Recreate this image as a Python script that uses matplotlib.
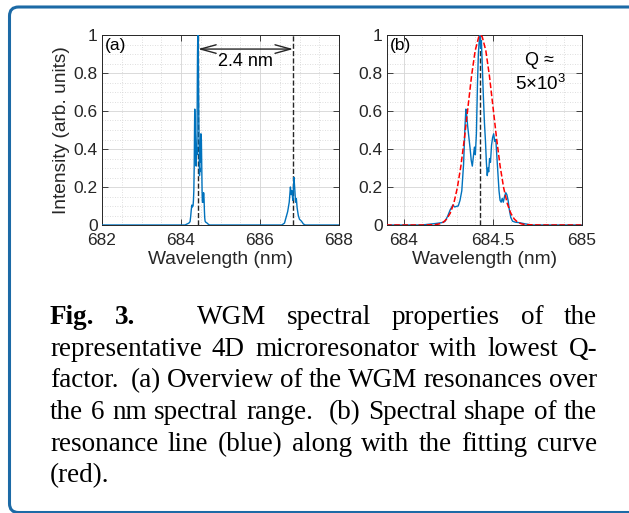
import matplotlib
matplotlib.use("Agg")
import matplotlib.pyplot as plt
from matplotlib.patches import FancyBboxPatch
from matplotlib.ticker import MultipleLocator

plt.rcParams["font.family"] = ["Liberation Sans", "DejaVu Sans"]
plt.rcParams["mathtext.fontset"] = "custom"
plt.rcParams["mathtext.rm"] = "Liberation Sans"
plt.rcParams["mathtext.it"] = "Liberation Sans:italic"

# ---- data ----
# main resonance (panel b, also first cluster in panel a)
wl_res1 = [683.90, 684.10, 684.14, 684.18, 684.21, 684.23, 684.245, 684.26, 684.275, 684.285,
           684.295, 684.305, 684.315, 684.325, 684.335, 684.343, 684.348, 684.352, 684.358, 684.365,
           684.372, 684.378, 684.384, 684.390, 684.396, 684.401, 684.407, 684.413, 684.418, 684.423,
           684.427, 684.431, 684.435, 684.440, 684.446, 684.452, 684.458, 684.463, 684.468, 684.472,
           684.476, 684.481, 684.486, 684.492, 684.498, 684.504, 684.510, 684.516, 684.522, 684.528,
           684.534, 684.540, 684.546, 684.552, 684.558, 684.565, 684.572, 684.578, 684.585, 684.592,
           684.600, 684.610, 684.625, 684.650, 684.680, 684.720, 685.00]
int_res1 = [0.0, 0.0, 0.004, 0.008, 0.012, 0.018, 0.045, 0.08, 0.105, 0.095,
            0.098, 0.10, 0.13, 0.18, 0.32, 0.52, 0.61, 0.58, 0.52, 0.46,
            0.40, 0.34, 0.31, 0.36, 0.41, 0.37, 0.48, 0.74, 0.90, 0.97,
            1.00, 0.93, 0.97, 0.84, 0.68, 0.54, 0.44, 0.33, 0.26, 0.30,
            0.28, 0.35, 0.33, 0.42, 0.46, 0.48, 0.44, 0.45, 0.36, 0.27,
            0.18, 0.13, 0.12, 0.14, 0.12, 0.15, 0.17, 0.16, 0.13, 0.08,
            0.04, 0.02, 0.015, 0.012, 0.006, 0.0, 0.0]

# neighbouring resonance (panel a only)
wl_res2 = [686.55, 686.62, 686.66, 686.70, 686.74, 686.77, 686.79, 686.81, 686.83, 686.86,
           686.88, 686.90, 686.92, 686.94, 686.97, 687.00, 687.05, 687.10, 687.15]
int_res2 = [0.0, 0.01, 0.04, 0.07, 0.12, 0.20, 0.16, 0.18, 0.13, 0.25,
            0.19, 0.12, 0.14, 0.09, 0.05, 0.03, 0.02, 0.005, 0.0]

# fitted line shape (red dashed, panel b)
fit_wl = [683.90, 684.10, 684.18, 684.20, 684.22, 684.24, 684.26, 684.28, 684.30, 684.32,
          684.34, 684.36, 684.38, 684.40, 684.42, 684.43, 684.44, 684.46, 684.48, 684.50,
          684.52, 684.54, 684.56, 684.58, 684.60, 684.62, 684.64, 684.66, 684.68, 684.76, 685.00]
fit_int = [0.0, 0.0, 0.002, 0.006, 0.014, 0.031, 0.062, 0.114, 0.196, 0.311,
           0.458, 0.623, 0.786, 0.917, 0.99, 1.0, 0.99, 0.917, 0.786, 0.623,
           0.458, 0.311, 0.196, 0.114, 0.062, 0.031, 0.014, 0.006, 0.002, 0.0, 0.0]

peak_1 = 684.43
peak_2 = 686.84
fsr_label = "2.4 nm"

xlim_a = (682, 688)
xlim_b = (683.905, 685)
xticks_a = [682, 684, 686, 688]
xticks_b = [684, 684.5, 685]
xlabels_b = ["684", "684.5", "685"]
yticks = [0, 0.2, 0.4, 0.6, 0.8, 1]
ylabels = ["0", "0.2", "0.4", "0.6", "0.8", "1"]

caption_lines = [
    "Fig. 3.   WGM spectral properties of the",
    "representative 4D microresonator with lowest Q-",
    "factor.  (a) Overview of the WGM resonances over",
    "the 6 nm spectral range.  (b) Spectral shape of the",
    "resonance line (blue) along with the fitting curve",
    "(red).",
]
caption_bold = 2  # first two words of first line

BLUE = "#0072BD"
DARK = "#262626"
W, H = 629, 513

fig = plt.figure(figsize=(W / 100, H / 100), dpi=100)


def add_px_axes(l, t, r, b):
    return fig.add_axes([l / W, 1 - b / H, (r - l) / W, (b - t) / H])


def style_axes(ax, xminor):
    ax.set_ylim(0, 1)
    ax.set_yticks(yticks)
    ax.set_yticklabels(ylabels)
    ax.xaxis.set_minor_locator(MultipleLocator(xminor))
    ax.yaxis.set_minor_locator(MultipleLocator(0.05))
    ax.tick_params(which="both", direction="in", top=True, right=True,
                   labelsize=12.5, colors=DARK, width=0.6)
    ax.tick_params(which="major", length=4)
    ax.tick_params(axis="x", pad=6)
    ax.tick_params(axis="y", pad=3)
    ax.tick_params(which="minor", length=0)
    ax.grid(which="major", color="#d4d4d4", lw=0.6, ls="-")
    ax.grid(which="minor", color="#d4d4d4", lw=0.6, ls=(0, (1, 2)))
    ax.set_axisbelow(True)
    for s in ax.spines.values():
        s.set_color(DARK)
        s.set_linewidth(0.7)
    ax.set_xlabel("Wavelength (nm)", fontsize=13.75, color=DARK, labelpad=2)


# ---- panel (a) ----
ax_a = add_px_axes(102, 35, 339, 225)
wl_a = [xlim_a[0]] + wl_res1 + wl_res2 + [xlim_a[1]]
int_a = [0.0] + int_res1 + int_res2 + [0.0]
ax_a.axvline(peak_1, color=DARK, ls="--", lw=1, zorder=2)
ax_a.axvline(peak_2, color=DARK, ls="--", lw=1, zorder=2)
ax_a.plot(wl_a, int_a, color=BLUE, lw=1, zorder=3)
ax_a.set_xlim(*xlim_a)
ax_a.set_xticks(xticks_a)
style_axes(ax_a, 0.5)
ax_a.set_ylabel("Intensity (arb. units)", fontsize=13.75, color=DARK, labelpad=3)
ax_a.annotate("", xy=(peak_1, 0.926), xytext=(peak_2, 0.926),
              arrowprops=dict(arrowstyle="<->,head_length=0.8,head_width=0.22",
                              color=DARK, lw=1, shrinkA=0, shrinkB=0,
                              mutation_scale=14), zorder=4)
ax_a.text((peak_1 + peak_2) / 2 - 0.01, 0.858, fsr_label, ha="center", va="center",
          fontsize=13, color="black")
ax_a.text(0.014, 0.985, "(a)", transform=ax_a.transAxes, ha="left", va="top",
          fontsize=12.5, color="black")

# ---- panel (b) ----
ax_b = add_px_axes(387, 35, 582, 225)
ax_b.axvline(peak_1, color=DARK, ls="--", lw=1, zorder=2)
ax_b.plot(wl_res1, int_res1, color=BLUE, lw=1, zorder=3)
ax_b.plot(fit_wl, fit_int, color="red", ls="--", lw=1.1, zorder=4)
ax_b.set_xlim(*xlim_b)
ax_b.set_xticks(xticks_b)
ax_b.set_xticklabels(xlabels_b)
style_axes(ax_b, 0.1)
ax_b.text(0.015, 0.985, "(b)", transform=ax_b.transAxes, ha="left", va="top",
          fontsize=12.5, color="black")
ax_b.text(0.78, 0.868, "Q \u2248", transform=ax_b.transAxes, ha="center", va="center",
          fontsize=13, color="black")
ax_b.text(0.785, 0.711, r"5$\times$10$^3$", transform=ax_b.transAxes, ha="center",
          va="baseline", fontsize=13.5, color="black")

# ---- blue frame (bottom and right edges run off the image) ----
frame = FancyBboxPatch((9.5 / 100, 0.5 / 100), 7.0, (H - 7) / 100 - 0.5 / 100,
                       boxstyle="round,pad=0,rounding_size=0.09",
                       transform=fig.dpi_scale_trans, fill=False,
                       edgecolor="#1c6aa6", lw=2.2)
fig.patches.append(frame)

# ---- justified caption ----
cap_font = dict(fontsize=19.5, family=["Liberation Serif", "DejaVu Serif"], color="black")
x_left, x_right = 50, 597
baselines = [324.0, 355.7, 387.4, 419.1, 450.8, 482.5]
renderer = fig.canvas.get_renderer()
for n, (line, yb) in enumerate(zip(caption_lines, baselines)):
    words, gaps = [], []
    pending = 0
    for tok in line.split(" "):
        if tok == "":
            pending += 1
            continue
        if words:
            gaps.append(1 + pending)
        pending = 0
        words.append(tok)
    texts = []
    for i, w in enumerate(words):
        bold = n == 0 and i < caption_bold
        texts.append(fig.text(0, 1 - yb / H, w, ha="left", va="baseline",
                              weight="bold" if bold else "normal", **cap_font))
    widths = [t.get_window_extent(renderer).width for t in texts]
    if n == len(caption_lines) - 1 or not gaps:
        unit = 6.0
    else:
        unit = (x_right - x_left - sum(widths)) / sum(gaps)
    x = x_left
    for i, t in enumerate(texts):
        t.set_x(x / W)
        x += widths[i]
        if i < len(gaps):
            x += gaps[i] * unit

fig.savefig("out.png", dpi=100)
